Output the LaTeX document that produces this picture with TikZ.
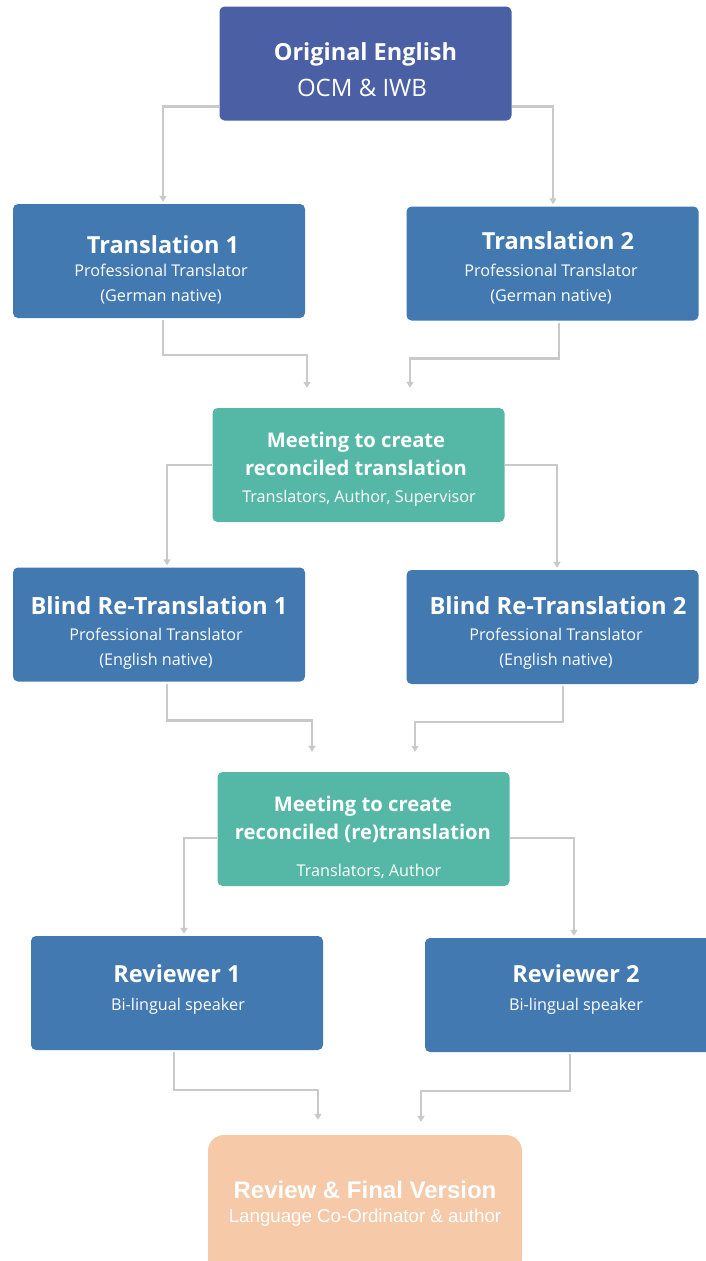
\documentclass[tikz,border=0pt]{standalone}
\usepackage{fontspec}
\setmainfont{Open Sans}
\newfontfamily\arialf{Liberation Sans}
\usetikzlibrary{arrows.meta,calc}
\definecolor{origc}{HTML}{4A5FA4}
\definecolor{bluec}{HTML}{4279B1}
\definecolor{tealc}{HTML}{55B8A6}
\definecolor{finalc}{HTML}{F6C9A9}
\definecolor{connc}{HTML}{C9C9C9}
\begin{document}
\begin{tikzpicture}[x=1pt,y=-1pt,
  boxbase/.style={rounded corners=5pt,inner sep=0pt,draw=none,minimum width=292pt,minimum height=114pt},
  origbox/.style={boxbase,fill=origc},
  bluebox/.style={boxbase,fill=bluec},
  tealbox/.style={boxbase,fill=tealc},
  finalbox/.style={rounded corners=16pt,inner sep=0pt,draw=none,fill=finalc,minimum width=314pt,minimum height=140pt},
  conn/.style={draw=connc,line width=2.5pt,-{Triangle[width=7pt,length=6pt]}},
  ttl/.style={text=white,anchor=base,font=\bfseries\fontsize{23.5}{26}\selectfont},
  bttl/.style={text=white,anchor=base,font=\bfseries\fontsize{23.7}{26}\selectfont},
  mttl/.style={text=white,anchor=base,font=\bfseries\fontsize{20.2}{24}\selectfont},
  sub/.style={text=white,anchor=base,font=\fontsize{16.2}{18}\selectfont},
  osub/.style={text=white,anchor=base,font=\fontsize{24}{28}\selectfont},
  fttl/.style={text=white,anchor=base,font=\arialf\bfseries\fontsize{24}{28}\selectfont},
  fsub/.style={text=white,anchor=base,font=\arialf\fontsize{18.7}{22}\selectfont}]
\useasboundingbox (0,0) rectangle (705,1261);

% boxes
\node[origbox] (orig) at (365.5,63.5) {};
\node[bluebox] (t1) at (159,261) {};
\node[bluebox] (t2) at (552.5,263.5) {};
\node[tealbox] (m1) at (358.5,465) {};
\node[bluebox] (b1) at (159,624.5) {};
\node[bluebox] (b2) at (552.5,627) {};
\node[tealbox] (m2) at (363.5,829) {};
\node[bluebox] (r1) at (177,993) {};
\node[bluebox] (r2) at (571,995) {};
\node[finalbox] (fin) at (365,1205) {};

% texts
\node[ttl] (origA) at (365.5,60) {Original English};
\node[osub] (origB) at (362,96) {OCM \& IWB};

\node[ttl] (t1A) at (163,253) {Translation 1};
\node[sub] (t1B) at (161,276) {Professional Translator};
\node[sub] (t1C) at (161,301) {(German native)};

\node[ttl] (t2A) at (558,249) {Translation 2};
\node[sub] (t2B) at (551,276) {Professional Translator};
\node[sub] (t2C) at (551,301) {(German native)};

\node[mttl] (m1A) at (356,447) {Meeting to create};
\node[mttl] (m1B) at (356,475) {reconciled translation};
\node[sub] (m1C) at (359,502) {Translators, Author, Supervisor};

\node[bttl] (b1A) at (159,614) {Blind Re-Translation 1};
\node[sub] (b1B) at (156,640) {Professional Translator};
\node[sub] (b1C) at (156,665) {(English native)};

\node[bttl] (b2A) at (558,614) {Blind Re-Translation 2};
\node[sub] (b2B) at (556,640) {Professional Translator};
\node[sub] (b2C) at (556,665) {(English native)};

\node[mttl] (m2A) at (363,811) {Meeting to create};
\node[mttl] (m2B) at (363,839) {reconciled (re)translation};
\node[sub] (m2C) at (369,876) {Translators, Author};

\node[ttl] (r1A) at (177,982) {Reviewer 1};
\node[sub] (r1B) at (178,1010) {Bi-lingual speaker};

\node[ttl] (r2A) at (576,982) {Reviewer 2};
\node[sub] (r2B) at (576,1010) {Bi-lingual speaker};

\node[fttl] (finA) at (365,1198) {Review \& Final Version};
\node[fsub] (finB) at (365,1222) {Language Co-Ordinator \& author};

% connectors
\draw[conn] ([yshift=14pt]orig.south west) -| ([xshift=4pt,yshift=2pt]t1.north);
\draw[conn] ([yshift=14pt]orig.south east) -| ([xshift=0.5pt,yshift=2pt]t2.north);

\draw[conn] ([xshift=4pt,yshift=-2pt]t1.south) -- ++(0,35) -| ([xshift=-51.5pt,yshift=20pt]m1.north);
\draw[conn] ([xshift=6.5pt,yshift=-2pt]t2.south) -- ++(0,36) -| ([xshift=51.5pt,yshift=20pt]m1.north);

\draw[conn] (m1.west) -| ([xshift=8pt,yshift=2pt]b1.north);
\draw[conn] (m1.east) -| ([xshift=4.5pt,yshift=2pt]b2.north);

\draw[conn] ([xshift=8pt,yshift=-2pt]b1.south) -- ++(0,37) -| ([xshift=-51.5pt,yshift=20pt]m2.north);
\draw[conn] ([xshift=10.5pt,yshift=-2pt]b2.south) -- ++(0,36) -| ([xshift=51.5pt,yshift=20pt]m2.north);

\draw[conn] ([yshift=-9pt]m2.west) -| ([xshift=7pt,yshift=2pt]r1.north);
\draw[conn] ([yshift=-9pt]m2.east) -| ([xshift=3pt,yshift=2pt]r2.north);

\draw[conn] ([xshift=-3pt,yshift=-2pt]r1.south) -- ++(0,38) -| ([xshift=-47pt,yshift=15pt]fin.north);
\draw[conn] ([xshift=-1pt,yshift=-2pt]r2.south) -- ++(0,37) -| ([xshift=56pt,yshift=13pt]fin.north);
\end{tikzpicture}
\end{document}
